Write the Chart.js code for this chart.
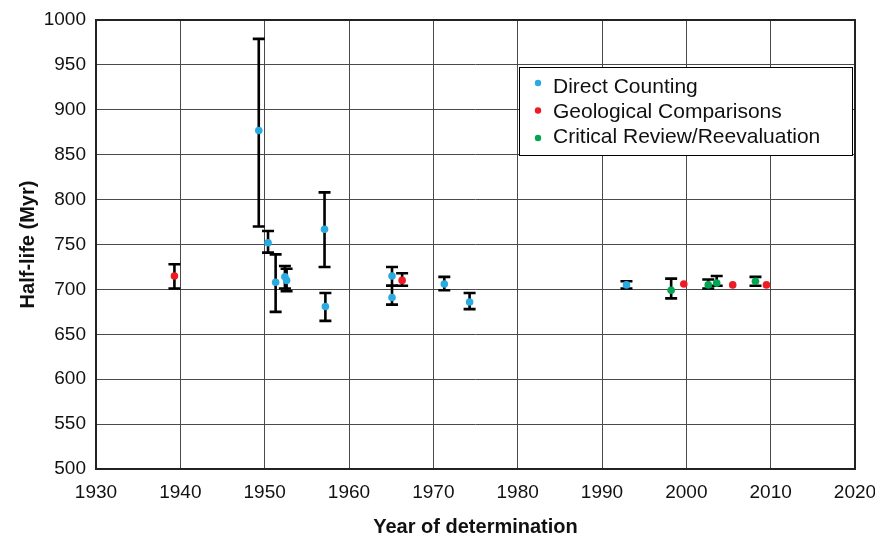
<!DOCTYPE html>
<html lang="en">

<head>
    <meta charset="UTF-8">
    <title>Half-life determinations</title>
    <script src="https://cdn.jsdelivr.net/npm/chart.js"></script>
    <style>
        html, body { margin: 0; padding: 0; background: #fff; }
        #container { width: 875px; height: 535px; }
    </style>
</head>

<body>
    <div id="container">
        <canvas id="mycanvas" width="875" height="535"></canvas>
    </div>
    <script>
        // Direct counting measurements (year, value, error bar top, error bar bottom)
        const directYears = [1949.3, 1950.4, 1951.3, 1952.4, 1952.6, 1957.1, 1957.2, 1965.1, 1965.1, 1971.3, 1974.3, 1992.9]
        const directValues = [877, 752, 708, 714, 710, 767, 681, 715, 691, 706, 686, 705]
        const directUpper = [979, 765, 739, 726, 723, 808, 696, 725, 704, 714, 696, 709]
        const directLower = [770, 741, 675, 701, 698, 725, 665, 704, 683, 699, 678, 701]

        // Geological comparisons
        const geoYears = [1939.3, 1966.3, 1999.7, 2005.5, 2009.5]
        const geoValues = [715, 710, 706, 705, 705]
        const geoUpper = [728, 718, null, null, null]
        const geoLower = [701, 704, null, null, null]

        // Critical review / reevaluation
        const reviewYears = [1998.2, 2002.6, 2003.6, 2008.2]
        const reviewValues = [699, 705, 707, 709]
        const reviewUpper = [712, 711, 715, 714]
        const reviewLower = [690, 701, 704, 704]

        const xTicks = [1930, 1940, 1950, 1960, 1970, 1980, 1990, 2000, 2010, 2020]
        const yTicks = [500, 550, 600, 650, 700, 750, 800, 850, 900, 950, 1000]

        const FONT = "'Liberation Sans', Arial, Helvetica, sans-serif"

        function points(xs, ys, hi, lo) {
            return xs.map((x, i) => ({ x: x, y: ys[i], hi: hi[i], lo: lo[i] }))
        }

        // error bars, drawn under the dots
        const errorBars = {
            id: 'errorBars',
            beforeDatasetsDraw(chart) {
                const ctx = chart.ctx
                const xs = chart.scales.x
                const ys = chart.scales.y
                ctx.save()
                ctx.strokeStyle = '#000'
                ctx.lineWidth = 2.6
                ctx.lineCap = 'butt'
                chart.data.datasets.forEach(ds => {
                    ds.data.forEach(p => {
                        if (p.hi == null) return
                        const px = xs.getPixelForValue(p.x)
                        const top = ys.getPixelForValue(p.hi)
                        const bot = ys.getPixelForValue(p.lo)
                        ctx.beginPath()
                        ctx.moveTo(px, top)
                        ctx.lineTo(px, bot)
                        ctx.moveTo(px - 6, top)
                        ctx.lineTo(px + 6, top)
                        ctx.moveTo(px - 6, bot)
                        ctx.lineTo(px + 6, bot)
                        ctx.stroke()
                    })
                })
                ctx.restore()
            }
        }

        // frame around the plot and the boxed legend inside it
        const frameAndLegend = {
            id: 'frameAndLegend',
            afterDraw(chart) {
                const ctx = chart.ctx
                const a = chart.chartArea
                ctx.save()
                ctx.strokeStyle = '#222'
                ctx.lineWidth = 2
                ctx.strokeRect(a.left, a.top, a.right - a.left, a.bottom - a.top)

                const bx = 519.5, by = 67.5, bw = 333, bh = 88
                ctx.fillStyle = '#fff'
                ctx.fillRect(bx, by, bw, bh)
                ctx.lineWidth = 1
                ctx.strokeStyle = '#000'
                ctx.strokeRect(bx, by, bw, bh)

                ctx.font = '21px ' + FONT
                ctx.textBaseline = 'alphabetic'
                ctx.textAlign = 'left'
                chart.data.datasets.forEach((ds, i) => {
                    ctx.fillStyle = ds.backgroundColor
                    ctx.beginPath()
                    ctx.arc(538, 83 + i * 27.5, 3.2, 0, Math.PI * 2)
                    ctx.fill()
                    ctx.fillStyle = '#111'
                    ctx.fillText(ds.label, 553, 92.5 + i * 25.2)
                })
                ctx.restore()
            }
        }

        new Chart(document.getElementById('mycanvas'), {
            type: 'scatter',
            data: {
                datasets: [
                    {
                        label: 'Direct Counting',
                        data: points(directYears, directValues, directUpper, directLower),
                        backgroundColor: '#29abe2'
                    },
                    {
                        label: 'Geological Comparisons',
                        data: points(geoYears, geoValues, geoUpper, geoLower),
                        backgroundColor: '#ed1c24'
                    },
                    {
                        label: 'Critical Review/Reevaluation',
                        data: points(reviewYears, reviewValues, reviewUpper, reviewLower),
                        backgroundColor: '#00a651'
                    }
                ]
            },
            options: {
                responsive: false,
                animation: false,
                layout: { padding: { top: 20, right: 20, left: 0, bottom: 0 } },
                elements: {
                    point: { radius: 3.8, borderWidth: 0, hoverRadius: 3.8 }
                },
                plugins: {
                    legend: { display: false },
                    tooltip: { enabled: false }
                },
                scales: {
                    x: {
                        type: 'linear',
                        min: xTicks[0],
                        max: xTicks[xTicks.length - 1],
                        afterFit: (scale) => {
                            scale.height = 66
                            scale.paddingLeft = 0
                            scale.paddingRight = 0
                        },
                        afterBuildTicks: (scale) => { scale.ticks = xTicks.map(v => ({ value: v })) },
                        ticks: {
                            color: '#111',
                            font: { family: FONT, size: 19 },
                            padding: 12,
                            callback: (v) => String(v)
                        },
                        grid: { color: '#4a4a4a', lineWidth: 1, drawTicks: false },
                        border: { display: false },
                        title: {
                            display: true,
                            text: 'Year of determination',
                            color: '#111',
                            font: { family: FONT, size: 20, weight: 'bold', lineHeight: 1 },
                            padding: { top: 0, bottom: -2 }
                        }
                    },
                    y: {
                        min: yTicks[0],
                        max: yTicks[yTicks.length - 1],
                        afterFit: (scale) => {
                            scale.width = 96
                            scale.paddingTop = 0
                            scale.paddingBottom = 0
                        },
                        afterBuildTicks: (scale) => { scale.ticks = yTicks.map(v => ({ value: v })) },
                        ticks: {
                            color: '#111',
                            font: { family: FONT, size: 19 },
                            padding: 10,
                            callback: (v) => String(v)
                        },
                        grid: { color: '#4a4a4a', lineWidth: 1, drawTicks: false },
                        border: { display: false },
                        title: {
                            display: true,
                            text: 'Half-life (Myr)',
                            color: '#111',
                            font: { family: FONT, size: 20, weight: 'bold', lineHeight: 1 },
                            padding: { top: 18, bottom: 0 }
                        }
                    }
                }
            },
            plugins: [errorBars, frameAndLegend]
        })
    </script>
</body>

</html>
